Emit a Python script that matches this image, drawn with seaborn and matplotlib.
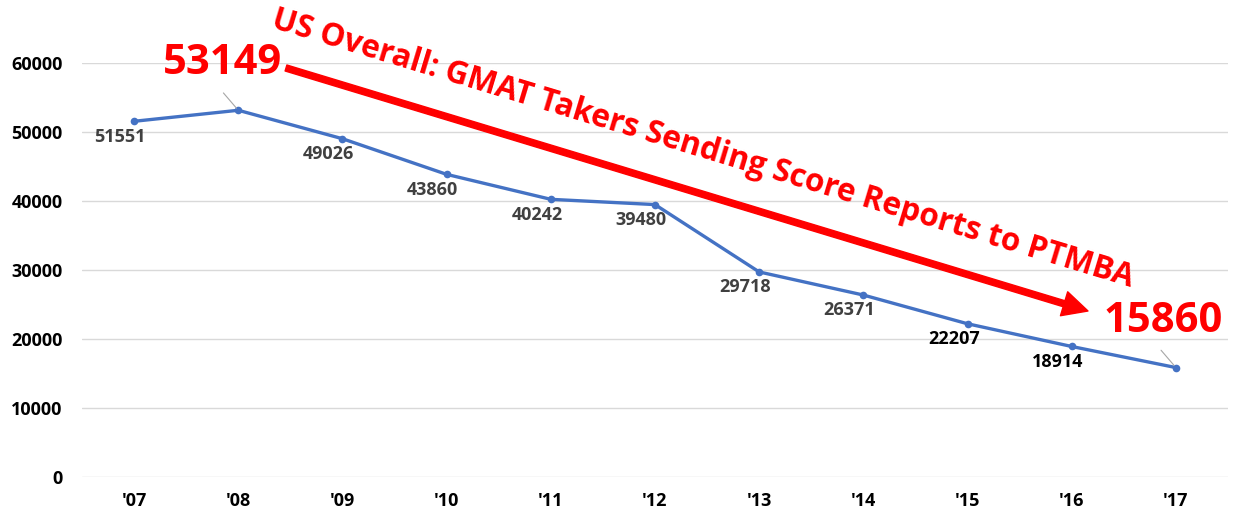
import matplotlib
matplotlib.use("Agg")
import matplotlib.pyplot as plt
import seaborn as sns
import pandas as pd

# data
years = ["'07", "'08", "'09", "'10", "'11", "'12", "'13", "'14", "'15", "'16", "'17"]
takers = [51551, 53149, 49026, 43860, 40242, 39480, 29718, 26371, 22207, 18914, 15860]
y_ticks = [0, 10000, 20000, 30000, 40000, 50000, 60000]
title = "US Overall: GMAT Takers Sending Score Reports to PTMBA"

df = pd.DataFrame({"year": years, "takers": takers})

sns.set_style("white")
plt.rcParams["font.family"] = ["Open Sans", "DejaVu Sans"]

W, H = 1238, 521
fig = plt.figure(figsize=(W / 100, H / 100), dpi=100)
ax = fig.add_axes([82 / W, 1 - 477 / H, (1228 - 82) / W, (477 - 63) / H])

sns.lineplot(x="year", y="takers", data=df, ax=ax, color="#4472C4",
             linewidth=2.4, marker="o", markersize=5.5, markeredgewidth=0, sort=False)

ax.set_xlim(-0.5, len(years) - 0.5)
ax.set_ylim(0, 60000)
ax.set_yticks(y_ticks)
ax.set_yticklabels([str(v) for v in y_ticks])
ax.grid(axis="y", color="#D9D9D9", linewidth=1)
ax.grid(axis="x", visible=False)
ax.set_axisbelow(True)
for s in ax.spines.values():
    s.set_visible(False)
ax.set_xlabel("")
ax.set_ylabel("")
ax.tick_params(axis="y", length=0, pad=14, labelsize=13)
ax.tick_params(axis="x", length=0, pad=11, labelsize=13)
for lbl in ax.get_xticklabels() + ax.get_yticklabels():
    lbl.set_fontweight("bold")
    lbl.set_color("black")

# data labels below points (first and last big ones are red, drawn separately)
for i, (yr, v) in enumerate(zip(years, takers)):
    if i in (1, len(years) - 1):
        continue
    col = "black" if i in (8, 9) else "#404040"
    ax.annotate(str(v), (i, v), xytext=(-10, -11), textcoords="offset points",
                ha="center", va="center", fontsize=13, fontweight="bold", color=col)

# leader lines
ax.annotate("", (1, takers[1]), xytext=(-12, 14), textcoords="offset points",
            arrowprops=dict(arrowstyle="-", color="#A6A6A6", lw=0.8))
ax.annotate("", (10, takers[10]), xytext=(-12, 14), textcoords="offset points",
            arrowprops=dict(arrowstyle="-", color="#A6A6A6", lw=0.8))

# big red labels
fig.text(223 / W, 1 - 63 / H, str(takers[1]), ha="center", va="center",
         fontsize=30, fontweight="bold", color="#FF0000")
fig.text(1163 / W, 1 - 321 / H, str(takers[-1]), ha="center", va="center",
         fontsize=30, fontweight="bold", color="#FF0000")

# rotated title
fig.text(270 / W, 1 - 27 / H, title, ha="left", va="baseline", rotation=-16.8,
         rotation_mode="anchor", fontsize=22.7, fontweight="bold", color="#FF0000")

# red arrow
ax.annotate("", xy=(1088 / W, 1 - 311 / H), xytext=(286 / W, 1 - 68 / H),
            xycoords="figure fraction", textcoords="figure fraction",
            arrowprops=dict(facecolor="#FF0000", edgecolor="#FF0000", width=4.5,
                            headwidth=18, headlength=18, shrink=0))

fig.savefig("out.png", dpi=100)
plt.close(fig)
